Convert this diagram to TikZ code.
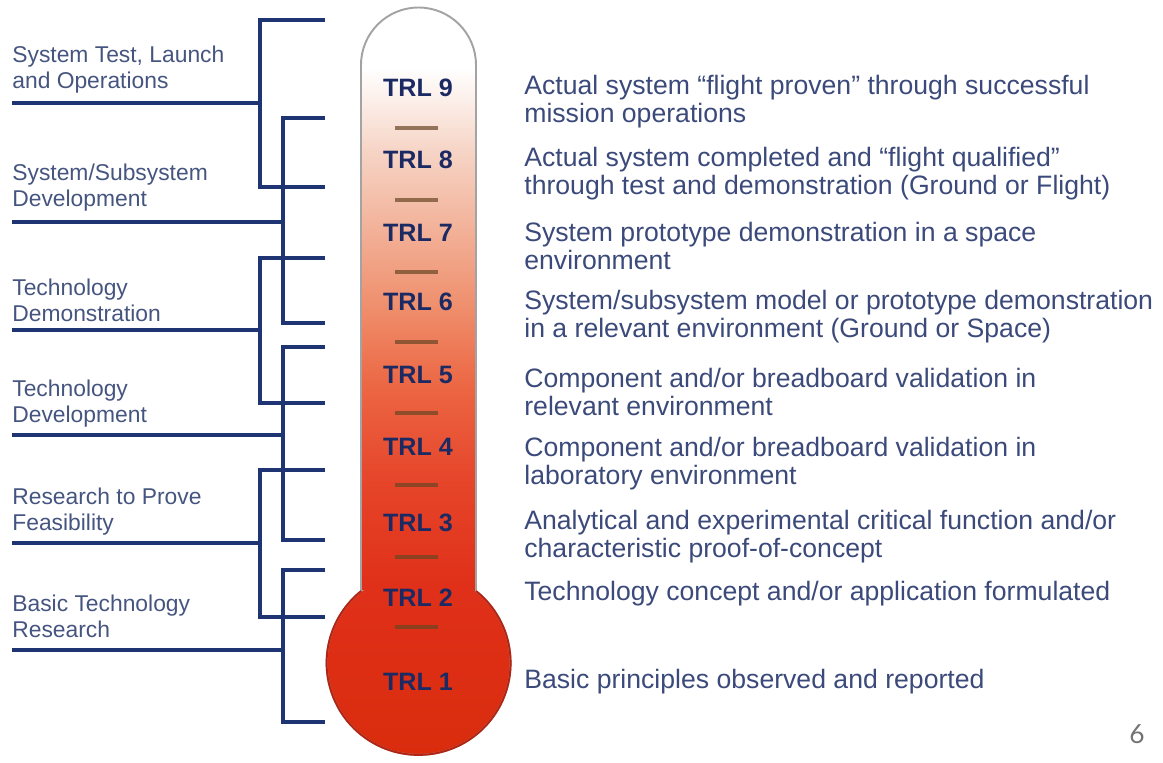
\documentclass[tikz,border=0pt]{standalone}
\usepackage{fontspec}
\setmainfont{Liberation Sans}
\newfontfamily\pagefont{Lato}
\usetikzlibrary{positioning}

\definecolor{txtblue}{HTML}{3B4A7A}
\definecolor{grpblue}{HTML}{45557F}
\definecolor{trlnavy}{HTML}{1B2A63}
\definecolor{brknavy}{HTML}{1E3473}
\definecolor{tubegray}{HTML}{A3A3A3}
\definecolor{bulbred}{HTML}{B32412}
\definecolor{thA}{HTML}{D92C0C}
\definecolor{thB}{HTML}{E0301A}
\definecolor{thC}{HTML}{E6462B}
\definecolor{thD}{HTML}{EC6643}
\definecolor{thE}{HTML}{EF906E}
\definecolor{thF}{HTML}{F6D4C5}

\pgfdeclareverticalshading{thermo}{100bp}{color(0bp)=(thA); color(25bp)=(thA); color(37bp)=(thB); color(44bp)=(thC); color(50bp)=(thD); color(55.5bp)=(thE); color(65.5bp)=(thF); color(71bp)=(white); color(100bp)=(white)}

\begin{document}
\begin{tikzpicture}[
      x=0.02cm, y=-0.02cm,
      trl/.style={font=\fontsize{14.3}{16}\selectfont\bfseries, text=trlnavy, inner sep=0pt},
      desc/.style={anchor=west, align=left, font=\fontsize{15.15}{15.8}\selectfont, text=txtblue, inner sep=0pt},
      grp/.style={anchor=west, align=left, font=\fontsize{13}{14.8}\selectfont, text=grpblue, inner sep=0pt},
      brk/.style={draw=brknavy, line width=2pt},
      sep/.style={draw=brown!55!black, line width=2pt, opacity=0.7},
    ]
    \useasboundingbox (0,0) rectangle (1163,762);

    % thermometer
    \shade[shading=thermo, draw=tubegray, line width=1.1pt]
      (361,591) -- (361,65) arc[start angle=180, end angle=360, radius=57.5]
      -- (476,591) arc[start angle=-51.4, end angle=231.4, radius=92] -- cycle;
    \draw[bulbred, line width=1.1pt] (476,591) arc[start angle=-51.4, end angle=231.4, radius=92];

    \node[trl] (trl9) at (418,88) {TRL 9};
    \node[trl] (trl8) at (418,160) {TRL 8};
    \node[trl] (trl7) at (418,233) {TRL 7};
    \node[trl] (trl6) at (418,302) {TRL 6};
    \node[trl] (trl5) at (418,375) {TRL 5};
    \node[trl] (trl4) at (418,447) {TRL 4};
    \node[trl] (trl3) at (418,523) {TRL 3};
    \node[trl] (trl2) at (418,598) {TRL 2};
    \node[trl] (trl1) at (418,682) {TRL 1};

    \draw[sep] (395,128) -- (438,128);
    \draw[sep] (395,200) -- (438,200);
    \draw[sep] (395,272) -- (438,272);
    \draw[sep] (395,342) -- (438,342);
    \draw[sep] (395,413) -- (438,413);
    \draw[sep] (395,485) -- (438,485);
    \draw[sep] (395,557) -- (438,557);
    \draw[sep] (395,627) -- (438,627);

    % descriptions
    \node[desc] (d9) at (524,101.5) {Actual system “flight proven” through successful\\mission operations};
    \node[desc] (d8) at (524,173.5) {Actual system completed and “flight qualified”\\through test and demonstration (Ground or Flight)};
    \node[desc] (d7) at (524,246) {System prototype demonstration in a space\\environment};
    \node[desc] (d6) at (524,316.5) {System/subsystem model or prototype demonstration\\in a relevant environment (Ground or Space)};
    \node[desc] (d5) at (524,392) {Component and/or breadboard validation in\\relevant environment};
    \node[desc] (d4) at (524,463.5) {Component and/or breadboard validation in\\laboratory environment};
    \node[desc] (d3) at (524,536.5) {Analytical and experimental critical function and/or\\characteristic proof-of-concept};
    \node[desc] (d2) at (524,594) {Technology concept and/or application formulated};
    \node[desc] (d1) at (524,682) {Basic principles observed and reported};

    % phase groups
    \node[grp] (g6) at (12,70) {System Test, Launch\\and Operations};
    \node[grp] (g5) at (12,188) {System/Subsystem\\Development};
    \node[grp] (g4) at (12,300) {Technology\\Demonstration};
    \node[grp] (g3) at (12,404) {Technology\\Development};
    \node[grp] (g2) at (12,511.5) {Research to Prove\\Feasibility};
    \node[grp] (g1) at (12,616.5) {Basic Technology\\Research};

    % brackets
    \coordinate (t6) at (325,20);  \coordinate (b6) at (325,187); \coordinate (l6) at (12,103);
    \coordinate (t5) at (325,118); \coordinate (b5) at (325,323); \coordinate (l5) at (12,222);
    \coordinate (t4) at (325,258); \coordinate (b4) at (325,403); \coordinate (l4) at (12,330);
    \coordinate (t3) at (325,347); \coordinate (b3) at (325,540); \coordinate (l3) at (12,435);
    \coordinate (t2) at (325,470); \coordinate (b2) at (325,617); \coordinate (l2) at (12,543);
    \coordinate (t1) at (325,570); \coordinate (b1) at (325,722); \coordinate (l1) at (12,650);

    \draw[brk] (t6) -- ++(-65,0) |- (b6);  \draw[brk] (l6) -- ++(248,0);
    \draw[brk] (t5) -- ++(-42,0) |- (b5);  \draw[brk] (l5) -- ++(271,0);
    \draw[brk] (t4) -- ++(-65,0) |- (b4);  \draw[brk] (l4) -- ++(248,0);
    \draw[brk] (t3) -- ++(-42,0) |- (b3);  \draw[brk] (l3) -- ++(271,0);
    \draw[brk] (t2) -- ++(-65,0) |- (b2);  \draw[brk] (l2) -- ++(248,0);
    \draw[brk] (t1) -- ++(-42,0) |- (b1);  \draw[brk] (l1) -- ++(271,0);

    \node[font=\pagefont\fontsize{15}{16}\selectfont, text=black!55] (pagenum) at (1137,734) {6};
  \end{tikzpicture}
\end{document}
